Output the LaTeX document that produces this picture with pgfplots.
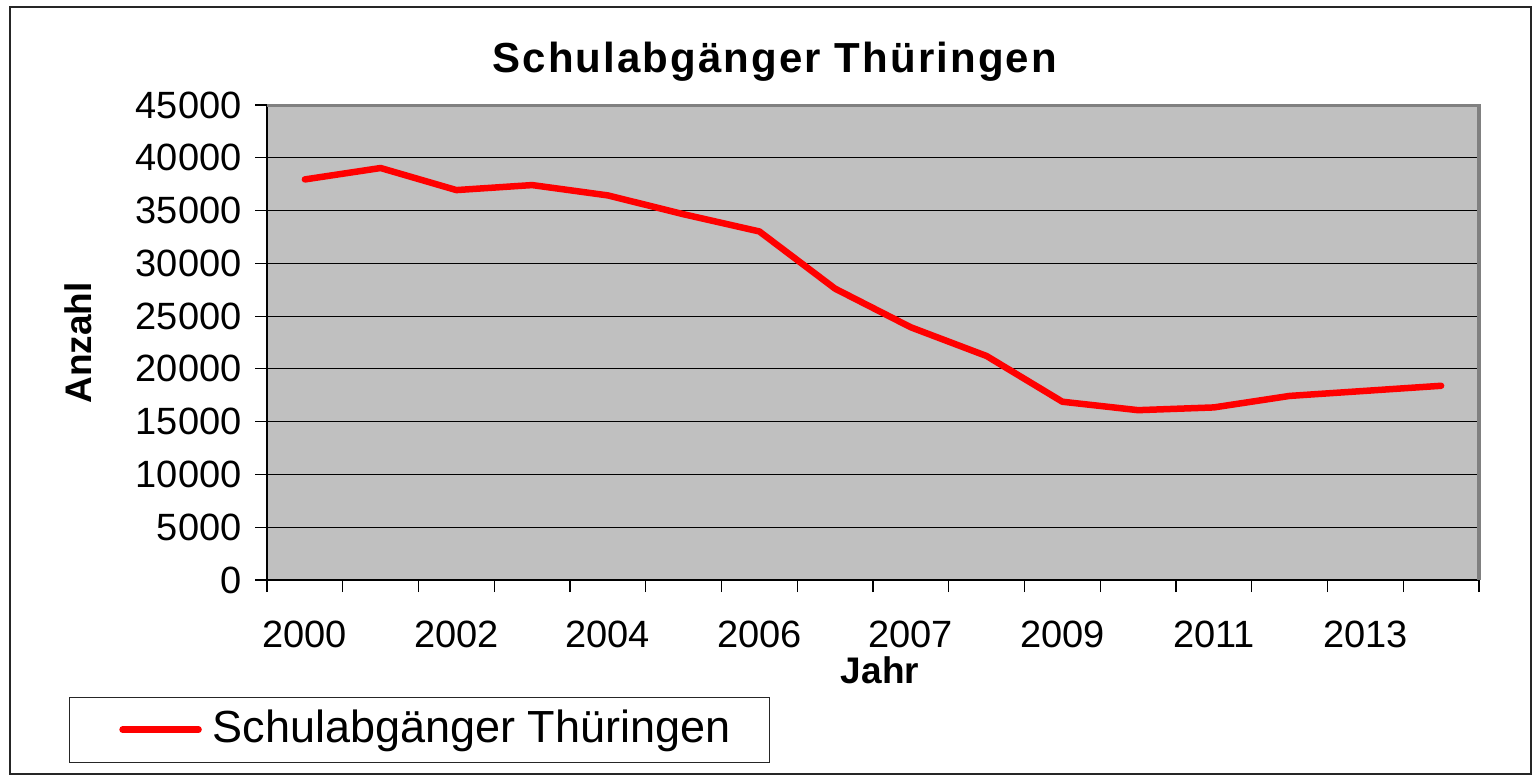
\documentclass[border=0pt]{standalone}
\usepackage{fontspec}
\setmainfont{Liberation Sans}
\usepackage{pgfplots}
\pgfplotsset{compat=1.18}
\definecolor{plotbg}{HTML}{C0C0C0}
\definecolor{frameg}{HTML}{808080}
\begin{document}
\begin{tikzpicture}
\useasboundingbox (0,0) rectangle (1532bp,-776bp);
\fill[white] (0,0) rectangle (1532bp,-776bp);
\draw[black!85, line width=2bp] (10bp,-7bp) rectangle (1531bp,-774bp);
\begin{axis}[
  at={(267bp,-580bp)}, anchor=south west,
  width=1212bp, height=475bp, scale only axis,
  xmin=0, xmax=16, ymin=0, ymax=45000,
  axis lines*=left,
  axis line style={black, line width=2bp},
  axis background/.style={fill=plotbg},
  clip=false,
  xtick={0,...,16},
  xticklabels={2000,,2002,,2004,,2006,,2007,,2009,,2011,,2013,,},
  xticklabel style={xshift=37.875bp, yshift=-25bp},
  ytick={0,5000,...,45000},
  scaled y ticks=false,
  yticklabel style={xshift=-10bp},
  tick align=outside,
  major tick length=12bp,
  tick style={black, line width=1.2bp},
  ymajorgrids=true,
  grid style={black, line width=1.2bp},
  ticklabel style={font=\fontsize{38bp}{40bp}\selectfont},
  /pgf/number format/assume math mode=true,
  /pgf/number format/1000 sep={},
  title={\addfontfeature{LetterSpace=5}Schulabgänger Thüringen},
  title style={at={(0.419,1.056)}, anchor=base, font=\fontsize{42bp}{44bp}\bfseries\selectfont},
  xlabel={Jahr},
  xlabel style={at={(0.5058,-0.1895)}, anchor=center, font=\fontsize{37bp}{40bp}\bfseries\selectfont},
  ylabel={Anzahl},
  ylabel style={at={(-0.156,0.499)}, anchor=center, font=\fontsize{37bp}{40bp}\bfseries\selectfont},
  legend style={at={(-0.1634,-0.2463)}, anchor=north west, draw=black!85, line width=1.2bp, fill=white,
    inner sep=0pt, font=\fontsize{45bp}{47bp}\selectfont, nodes={inner sep=0pt}},
  legend cell align=left,
  legend image code/.code={\path[draw=none,fill=none] (0bp,-33bp) rectangle (143bp,32bp);
    \draw[#1] (53bp,0bp) -- (129bp,0bp);},
]
\addplot[red, line width=6.5bp, line join=round, line cap=round] coordinates {
  (0.5,37950) (1.5,39030) (2.5,36940) (3.5,37415) (4.5,36435) (5.5,34650)
  (6.5,33020) (7.5,27600) (8.5,23940) (9.5,21220) (10.5,16890) (11.5,16090)
  (12.5,16350) (13.5,17440) (14.5,17920) (15.5,18400)
};
\addlegendentry{\makebox[557bp][l]{\raisebox{6bp}{Schulabgänger Thüringen}}}
\draw[frameg, line width=3bp] (rel axis cs:0,1) -- (rel axis cs:1,1) -- (rel axis cs:1,0);
\end{axis}
\end{tikzpicture}
\end{document}
